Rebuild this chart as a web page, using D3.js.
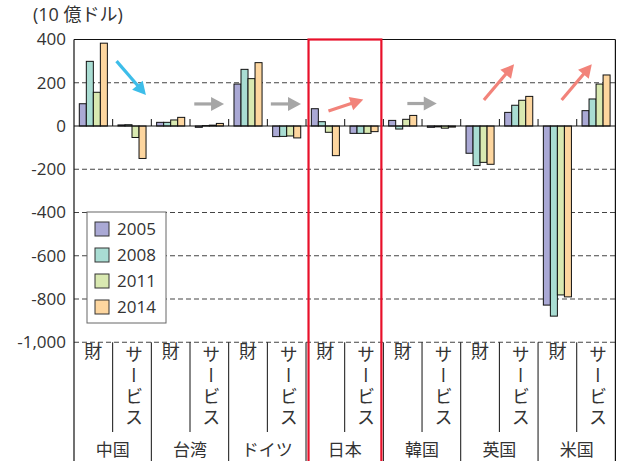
<!DOCTYPE html>
<html>
<head>
<meta charset="utf-8">
<script src="https://cdn.jsdelivr.net/npm/d3@7"></script>
<style>
  html, body { margin: 0; padding: 0; background: #fff; }
  svg { display: block; }
  text { font-family: "Open Sans", "Noto Sans CJK JP", sans-serif; fill: #333; }
</style>
</head>
<body>
<svg id="chart" width="620" height="461"></svg>
<script>
// Countries (groups) and the two balance types inside each group
const groups = ["中国", "台湾", "ドイツ", "日本", "韓国", "英国", "米国"];
const kinds = ["財", "サービス"];
const years = ["2005", "2008", "2011", "2014"];

// Trade balance, 10 billion-dollar units, one value per (group, kind)
const s2005 = [103, 5, 17, -6, 194, -49, 80, -34, 26, -6, -126, 63, -828, 71];
const s2008 = [299, 6, 17, 2, 262, -48, 20, -34, -14, -4, -183, 96, -879, 125];
const s2011 = [156, -53, 28, 4, 219, -46, -29, -34, 31, -10, -168, 119, -781, 194];
const s2014 = [383, -150, 40, 12, 293, -55, -137, -26, 49, -5, -177, 137, -790, 236];
const series = [s2005, s2008, s2011, s2014];

const yTicks = [400, 200, 0, -200, -400, -600, -800, -1000];
const colors = ["#aaa9d5", "#a9ddd3", "#d9e9b1", "#fdd69f"];

// Trend arrows, in category units (x) and value units (y)
const arrows = [
  { x0: 1.10, y0: 300, x1: 1.86, y1: 143, color: "#3dbde9" },
  { x0: 3.11, y0: 102, x1: 3.88, y1: 102, color: "#a6a6a6" },
  { x0: 5.09, y0: 102, x1: 5.87, y1: 102, color: "#a6a6a6" },
  { x0: 6.58, y0: 69, x1: 7.48, y1: 123, color: "#f2837a" },
  { x0: 8.62, y0: 104, x1: 9.38, y1: 104, color: "#a6a6a6" },
  { x0: 10.60, y0: 120, x1: 11.38, y1: 285, color: "#f2837a" },
  { x0: 12.61, y0: 120, x1: 13.39, y1: 285, color: "#f2837a" }
];
const highlightGroup = "日本";

const svg = d3.select("#chart");
const plotL = 74, plotR = 615.4, plotT = 39.5, plotB = 342.3, svgH = 461;

const nCat = groups.length * kinds.length;
const catIdx = d3.range(nCat);
const x = d3.scaleBand().domain(catIdx).range([plotL, plotR]).padding(0);
const xc = d3.scaleLinear().domain([0, nCat]).range([plotL, plotR]);
const xs = d3.scaleBand().domain(years).range([5.3, x.bandwidth() - 5.3]).padding(0);
const y = d3.scaleLinear().domain([-1000, 400]).range([plotB, plotT]);

const fmt = d3.formatLocale({ decimal: ".", thousands: ",", grouping: [3], currency: ["", ""], minus: "-" }).format(",");

// Dashed gridlines
svg.append("g").selectAll("line")
  .data(yTicks.filter(v => v !== 0 && v !== 400))
  .join("line")
  .attr("x1", plotL).attr("x2", plotR)
  .attr("y1", d => y(d)).attr("y2", d => y(d))
  .attr("stroke", "#444").attr("stroke-width", 1.1)
  .attr("stroke-dasharray", "5,3");

// Y axis labels
const yAxis = d3.axisLeft(y).tickValues(yTicks).tickSize(0).tickPadding(8).tickFormat(fmt);
const ya = svg.append("g").attr("transform", `translate(${plotL},0)`).call(yAxis);
ya.select(".domain").remove();
ya.selectAll("text").attr("font-size", 17).attr("fill", "#333")
  .style("font-family", "'Open Sans', 'Noto Sans CJK JP', sans-serif");

// Bars
const barG = svg.append("g");
years.forEach((yr, si) => {
  barG.append("g").selectAll("rect")
    .data(series[si].map((v, i) => ({ v, i })))
    .join("rect")
    .attr("x", d => x(d.i) + xs(yr))
    .attr("width", xs.bandwidth())
    .attr("y", d => y(Math.max(0, d.v)))
    .attr("height", d => Math.abs(y(d.v) - y(0)))
    .attr("fill", colors[si])
    .attr("stroke", "#111").attr("stroke-width", 1);
});

// Zero line and small category ticks above it
svg.append("line").attr("x1", plotL).attr("x2", plotR)
  .attr("y1", y(0)).attr("y2", y(0)).attr("stroke", "#111").attr("stroke-width", 1.2);
svg.append("g").selectAll("line")
  .data(d3.range(1, nCat))
  .join("line")
  .attr("x1", d => xc(d)).attr("x2", d => xc(d))
  .attr("y1", y(0) - 7).attr("y2", y(0))
  .attr("stroke", "#111").attr("stroke-width", 1);

// Plot frame: top, left, right
svg.append("line").attr("x1", plotL).attr("x2", plotR).attr("y1", plotT).attr("y2", plotT)
  .attr("stroke", "#111").attr("stroke-width", 1.2);
svg.append("line").attr("x1", plotL).attr("x2", plotL).attr("y1", plotT).attr("y2", svgH)
  .attr("stroke", "#111").attr("stroke-width", 1.2);
svg.append("line").attr("x1", plotR).attr("x2", plotR).attr("y1", plotT).attr("y2", svgH)
  .attr("stroke", "#111").attr("stroke-width", 1.2);

// Category dividers below the plot
svg.append("g").selectAll("line")
  .data(d3.range(1, nCat))
  .join("line")
  .attr("x1", d => xc(d)).attr("x2", d => xc(d))
  .attr("y1", plotB).attr("y2", d => d % 2 === 0 ? svgH : 432)
  .attr("stroke", "#111").attr("stroke-width", 1);

// Category labels
catIdx.forEach(i => {
  const k = kinds[i % 2];
  const cx = x(i) + x.bandwidth() / 2;
  if (k.length === 1) {
    svg.append("text").attr("x", cx).attr("y", 358).attr("text-anchor", "middle")
      .attr("font-size", 18).text(k);
  } else {
    svg.append("text").attr("x", cx + 1).attr("y", 345)
      .attr("font-size", 18)
      .style("writing-mode", "vertical-rl")
      .style("letter-spacing", "3px")
      .text(k);
  }
});

// Group labels
groups.forEach((g, gi) => {
  svg.append("text")
    .attr("x", xc(gi * 2 + 1)).attr("y", 456)
    .attr("text-anchor", "middle").attr("font-size", 17)
    .text(g);
});

// Unit label
svg.append("text").attr("x", 33).attr("y", 21).attr("font-size", 18).text("(10 億ドル)");

// Trend arrows
const arrowG = svg.append("g");
arrows.forEach(a => {
  const p0 = [xc(a.x0), y(a.y0)], p1 = [xc(a.x1), y(a.y1)];
  const dx = p1[0] - p0[0], dy = p1[1] - p0[1];
  const len = Math.hypot(dx, dy);
  const ux = dx / len, uy = dy / len;
  const hl = 13, hw = 14;
  const b = [p1[0] - ux * hl, p1[1] - uy * hl];
  arrowG.append("line")
    .attr("x1", p0[0]).attr("y1", p0[1]).attr("x2", b[0] + ux).attr("y2", b[1] + uy)
    .attr("stroke", a.color).attr("stroke-width", 3.2);
  arrowG.append("path")
    .attr("d", d3.line()([p1, [b[0] - uy * hw / 2, b[1] + ux * hw / 2], [b[0] + uy * hw / 2, b[1] - ux * hw / 2]]) + "Z")
    .attr("fill", a.color);
});

// Legend
const lg = svg.append("g").attr("transform", "translate(87,212)");
lg.append("rect").attr("width", 79).attr("height", 111)
  .attr("fill", "#fff").attr("stroke", "#666").attr("stroke-width", 1);
years.forEach((yr, i) => {
  const row = lg.append("g").attr("transform", `translate(0,${17 + i * 26})`);
  row.append("rect").attr("x", 8).attr("y", -7).attr("width", 14).attr("height", 14)
    .attr("fill", colors[i]).attr("stroke", "#333").attr("stroke-width", 1);
  row.append("text").attr("x", 30).attr("y", 6).attr("font-size", 17).text(yr);
});

// Highlight box around one country
const hg = groups.indexOf(highlightGroup);
svg.append("rect")
  .attr("x", xc(hg * 2) + 2.5).attr("y", plotT)
  .attr("width", x.bandwidth() * 2 - 4.5).attr("height", svgH - plotT + 10)
  .attr("fill", "none").attr("stroke", "#e8102a").attr("stroke-width", 2.2);
</script>
</body>
</html>
